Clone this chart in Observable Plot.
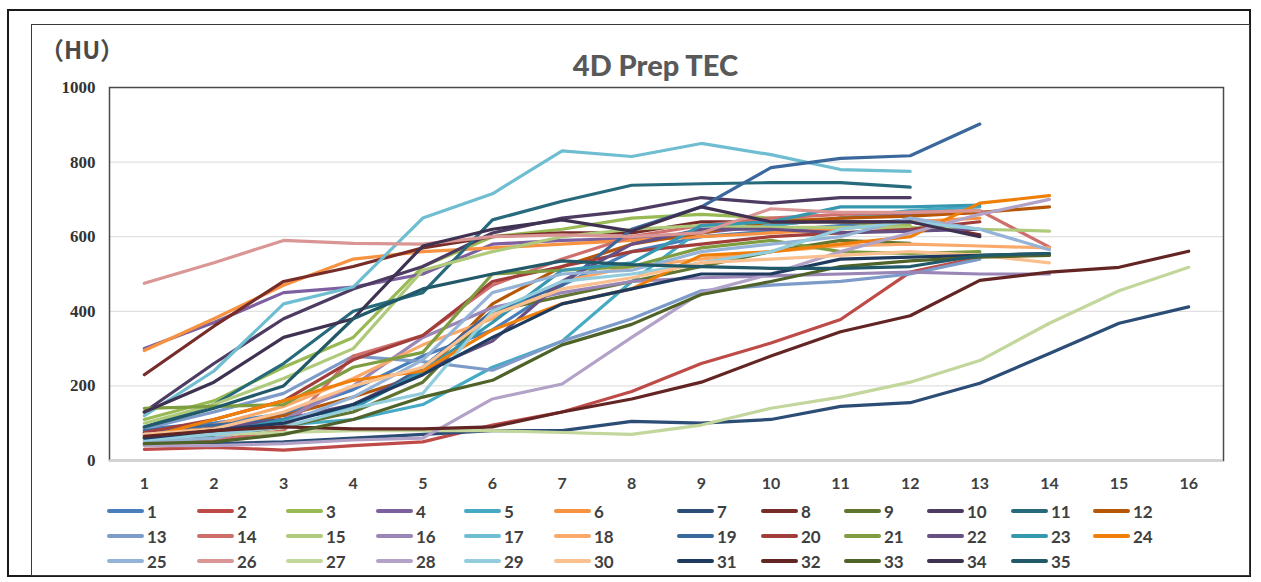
<!DOCTYPE html>
<html>
<head>
<meta charset="utf-8">
<script src="https://cdn.jsdelivr.net/npm/d3@7"></script>
<script src="https://cdn.jsdelivr.net/npm/@observablehq/plot@0.6"></script>
<style>
  html, body { margin: 0; padding: 0; background: #fff; }
  #wrap { position: relative; width: 1261px; height: 582px; overflow: hidden; }
  #outer { position: absolute; left: 7px; top: 9px; width: 1244px; height: 568px; border: 2px solid #1a1a1a; box-sizing: border-box; }
  #inner { position: absolute; left: 31px; top: 24px; width: 1219px; height: 552px; border: 1px solid #3a3a3a; box-sizing: border-box; }
  #chart { position: absolute; left: 0; top: 0; }
  #unit { position: absolute; left: 40px; top: 31px; font: bold 24px "Noto Sans CJK SC", sans-serif; color: #4a4a4a; }
  #title { position: absolute; left: 0; width: 1311px; top: 47px; text-align: center; font: 900 29px Lato, sans-serif; color: #595959; }
  #legend { position: absolute; left: 0; top: 0; width: 1261px; height: 582px; pointer-events: none; }
  .item { position: absolute; display: flex; align-items: center; font: bold 17px Lato, sans-serif; color: #404040; height: 22px; }
  .sw { width: 37px; height: 4px; border-radius: 2px; margin-right: 3px; }
</style>
</head>
<body>
<div id="wrap">
  <div id="outer"></div>
  <div id="inner"></div>
  <div id="chart"></div>
  <div id="unit">（HU）</div>
  <div id="title">4D Prep TEC</div>
  <div id="legend"></div>
</div>
<script>
// ---- data ----
const xTicks = [1,2,3,4,5,6,7,8,9,10,11,12,13,14,15,16];
const yTicks = [0,200,400,600,800,1000];
const seriesNames = Array.from({length: 35}, (_, i) => String(i + 1));
const seriesColors = [
  "#4A7EBB","#BE4B48","#98B954","#7D60A0","#46AAC5","#F69240",
  "#2C4D75","#772C2A","#5F7530","#4D3B62","#276A7C","#B65708",
  "#7C9BC9","#CE6F6C","#B0CA7B","#9A85B7","#6FBDD1","#F9A96A",
  "#3A679C","#A13D3A","#7E9D40","#664F83","#3597B0","#F07F09",
  "#95B3D7","#D99694","#C3D69B","#B3A2C7","#93CDDD","#FAC090",
  "#1F3A5F","#632523","#4F6228","#3F3151","#215968"
];
const s1  = [85, 100, 125, 190, 280, 350, 470, 560, 600, 615, 630, 645];
const s2  = [30, 35, 28, 40, 50, 95, 130, 185, 260, 315, 378, 505, 545];
const s3  = [110, 160, 250, 330, 520, 600, 620, 650, 660, 650, 640, 630];
const s4  = [300, 370, 450, 465, 500, 580, 590, 595, 610, 630, 650, 660, 665];
const s5  = [65, 75, 95, 110, 150, 250, 320, 480, 620, 630, 650, 670, 680];
const s6  = [295, 380, 470, 540, 560, 570, 580, 590, 600, 610, 620, 640, 650];
const s7  = [45, 45, 50, 60, 70, 80, 80, 105, 100, 110, 145, 155, 207, 287, 368, 412];
const s8  = [230, 360, 480, 520, 570, 600, 610, 610, 640, 640, 640, 640, 605];
const s9  = [60, 65, 90, 130, 210, 400, 440, 480, 520, 560, 590, 582];
const s10 = [130, 260, 380, 460, 520, 610, 650, 670, 705, 690, 705, 705];
const s11 = [90, 150, 260, 400, 450, 645, 695, 738, 742, 745, 745, 733];
const s12 = [70, 90, 120, 170, 230, 420, 520, 580, 610, 640, 650, 655, 665, 680];
const s13 = [85, 130, 180, 280, 265, 242, 320, 380, 455, 470, 480, 500, 540];
const s14 = [40, 55, 80, 280, 335, 470, 540, 600, 630, 650, 660, 665, 670, 572];
const s15 = [100, 150, 220, 300, 510, 560, 600, 620, 630, 625, 625, 625, 620, 615];
const s16 = [60, 75, 110, 200, 330, 410, 450, 480, 490, 495, 500, 505, 500, 500];
const s17 = [120, 240, 420, 465, 650, 715, 830, 815, 850, 820, 780, 775];
const s18 = [75, 95, 145, 220, 310, 380, 480, 520, 540, 560, 575, 580, 575, 570];
const s19 = [80, 95, 110, 140, 250, 400, 470, 620, 680, 785, 810, 817, 902];
const s20 = [75, 110, 160, 270, 335, 480, 520, 560, 580, 600, 610, 620, 640];
const s21 = [140, 145, 150, 250, 290, 500, 510, 520, 570, 590, 560, 555, 560];
const s22 = [70, 85, 110, 150, 240, 320, 480, 580, 620, 620, 610, 615, 620];
const s23 = [55, 70, 110, 140, 240, 370, 510, 530, 630, 640, 680, 680, 685];
const s24 = [60, 110, 160, 215, 240, 350, 420, 460, 550, 560, 580, 600, 690, 710];
const s25 = [50, 60, 100, 170, 270, 450, 500, 510, 560, 580, 600, 650, 620, 565];
const s26 = [475, 530, 590, 582, 580, 600, 605, 600, 610, 675, 665, 665, 670];
const s27 = [70, 70, 75, 80, 80, 80, 75, 70, 95, 140, 170, 210, 268, 368, 455, 518];
const s28 = [40, 40, 45, 55, 60, 165, 205, 330, 450, 500, 560, 610, 660, 700];
const s29 = [55, 70, 90, 140, 180, 400, 480, 500, 530, 560, 620, 640, 620];
const s30 = [70, 85, 130, 200, 250, 390, 460, 490, 530, 540, 550, 560, 550, 530];
const s31 = [60, 80, 100, 150, 230, 330, 420, 460, 500, 500, 540, 545, 550, 555];
const s32 = [65, 80, 90, 85, 85, 90, 130, 165, 210, 280, 345, 388, 483, 505, 518, 561];
const s33 = [45, 50, 70, 110, 170, 215, 310, 365, 445, 480, 520, 535, 545, 550];
const s34 = [130, 210, 330, 380, 575, 620, 645, 615, 680, 640, 640, 640, 600];
const s35 = [90, 140, 200, 380, 460, 500, 535, 525, 520, 515, 515, 520, 550, 555];
const seriesValues = [s1,s2,s3,s4,s5,s6,s7,s8,s9,s10,s11,s12,s13,s14,s15,s16,s17,s18,
  s19,s20,s21,s22,s23,s24,s25,s26,s27,s28,s29,s30,s31,s32,s33,s34,s35];

// ---- layout ----
const legendCols = [107,197,286,376,464,554,677,761,844,927,1011,1093];
const legendRows = [500, 525, 550];

const rows = seriesValues.flatMap((vals, i) =>
  vals.map((v, j) => ({series: seriesNames[i], x: xTicks[j], y: v})));

const chart = Plot.plot({
  width: 1261,
  height: 500,
  marginLeft: 109,
  marginRight: 38,
  marginTop: 87,
  marginBottom: 40,
  style: {background: "transparent", fontFamily: "Lato, sans-serif"},
  x: {domain: [0.5, 16.5]},
  y: {domain: [0, 1000]},
  color: {domain: seriesNames, range: seriesColors},
  marks: [
    Plot.gridY([200, 400, 600, 800], {stroke: "#d9d9d9", strokeOpacity: 1, strokeWidth: 1}),
    Plot.frame({stroke: "#4a4a4a", strokeWidth: 1.5}),
    Plot.ruleY([0], {stroke: "#d4d4d4", strokeWidth: 2}),
    Plot.line(rows, {x: "x", y: "y", z: "series", stroke: "series", strokeWidth: 3.2,
      strokeLinejoin: "round", strokeLinecap: "round"}),
    Plot.axisY({ticks: yTicks, tickSize: 0, tickPadding: 14, label: null, tickFormat: d => String(d),
      fontFamily: "Liberation Serif, serif", fontWeight: "bold", fontSize: 17, fill: "#333"}),
    Plot.axisX({ticks: xTicks, tickSize: 0, tickPadding: 17, label: null, tickFormat: d => String(d),
      fontFamily: "Lato, sans-serif", fontWeight: "bold", fontSize: 16, fill: "#404040"})
  ]
});
document.getElementById("chart").appendChild(chart);

// ---- legend ----
const legend = document.getElementById("legend");
seriesNames.forEach((name, i) => {
  const r = Math.floor(i / 12), c = i % 12;
  const it = document.createElement("div");
  it.className = "item";
  it.style.left = legendCols[c] + "px";
  it.style.top = legendRows[r] + "px";
  const sw = document.createElement("div");
  sw.className = "sw";
  sw.style.background = seriesColors[i];
  const t = document.createElement("span");
  t.textContent = name;
  it.appendChild(sw);
  it.appendChild(t);
  legend.appendChild(it);
});
</script>
</body>
</html>
